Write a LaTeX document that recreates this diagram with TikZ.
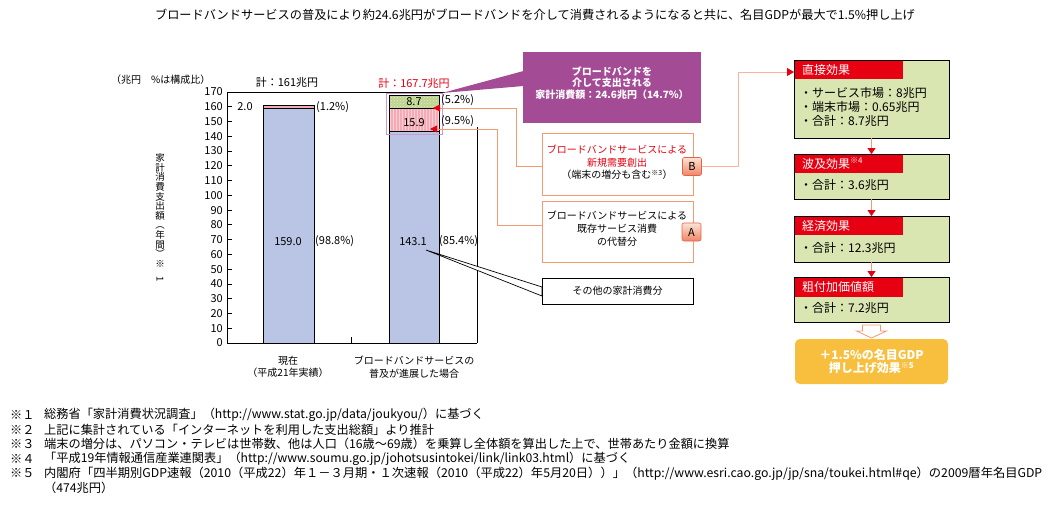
\documentclass[tikz,border=0pt]{standalone}
\usepackage{fontspec}
\setmainfont{Noto Sans CJK JP}
\usetikzlibrary{arrows.meta,calc,patterns}
\definecolor{barblue}{HTML}{BAC4E4}
\definecolor{barpink}{HTML}{F5AAB6}
\definecolor{pinkline}{HTML}{FAD0D6}
\definecolor{bargreen}{HTML}{BDD48F}
\definecolor{hlpurple}{HTML}{C99BCB}
\definecolor{callpurple}{HTML}{A44B96}
\definecolor{oline}{HTML}{F29A72}
\definecolor{olinelight}{HTML}{F6B59C}
\definecolor{jred}{HTML}{E60012}
\definecolor{bodygreen}{HTML}{D9E6B2}
\definecolor{gdporange}{HTML}{F8BF3F}
\definecolor{badgetop}{HTML}{FDE3D4}
\definecolor{badgebot}{HTML}{F08466}
\definecolor{badgeedge}{HTML}{E0644C}
\tikzset{
  tten/.style={font=\fontsize{10}{12}\selectfont, inner sep=0pt},
  televen/.style={font=\fontsize{11}{13}\selectfont, inner sep=0pt},
  ttwelve/.style={font=\fontsize{12}{14}\selectfont, inner sep=0pt},
  tnote/.style={font=\fontsize{12.2}{14}\selectfont, inner sep=0pt, anchor=west},
  barfill/.style={draw=black, line width=0.8pt},
  oconn/.style={draw=oline, line width=0.8pt, -{Triangle[length=7pt,width=7pt,color=jred,fill=jred]}},
  lconn/.style={draw=olinelight, line width=0.9pt, -{Triangle[length=7pt,width=8pt,color=jred,fill=jred]}},
  fconn/.style={draw=oline, line width=0.8pt, -{Triangle[length=6pt,width=8pt,color=jred,fill=jred]}},
  obox/.style={draw=oline, line width=0.9pt, fill=white, minimum width=151pt, outer sep=0pt, inner sep=0pt, anchor=north west},
  badge/.style={draw=badgeedge, line width=0.6pt, rounded corners=2pt, top color=badgetop, bottom color=badgebot, minimum width=19pt, minimum height=18pt, inner sep=0pt, font=\fontsize{11}{11}\selectfont},
  flowbody/.style={fill=bodygreen, minimum width=155pt, outer sep=0pt, inner sep=0pt, anchor=north west},
  flowhdr/.style={fill=jred, text=white, minimum width=109pt, minimum height=19pt, text width=93pt, inner xsep=8pt, inner ysep=0pt, align=left, outer sep=0pt, anchor=north west, font=\fontsize{12}{14}\selectfont},
  flowitem/.style={font=\fontsize{12}{14}\selectfont, inner sep=0pt, anchor=west},
}
\begin{document}
\begin{tikzpicture}[x=1pt,y=-1pt]
\useasboundingbox[fill=white] (0,0) rectangle (1053,504);

% title
\node[font=\fontsize{12.2}{14}\selectfont, inner sep=0pt] (title) at (535,15) {ブロードバンドサービスの普及により約24.6兆円がブロードバンドを介して消費されるようになると共に、名目GDPが最大で1.5\%押し上げ};

% chart header texts
\node[tten, anchor=west] (unit) at (111,80) {（兆円　\%は構成比）};
\node[televen] (tot1) at (287,82) {計：161兆円};
\node[televen, text=jred] (tot2) at (414,83) {計：167.7兆円};

% vertical axis title
\node[font=\fontsize{9.5}{9.6}\selectfont, inner sep=0pt, align=center] (ytitle) at (160,218) {家\\計\\消\\費\\支\\出\\額\\︵\\年\\間\\︶\\※\\\rotatebox{-90}{1}};

\coordinate (hlNE) at (442,93);

% chart
\begin{scope}[shift={(0,343)}, y=1.4765pt]
  % bars
  \fill[barblue] (263,0) rectangle (314,159);
  \fill[barpink] (263,159) rectangle (314,161);
  \draw[barfill] (263,0) rectangle (314,161);
  \draw[line width=0.8pt] (263,159) -- (314,159);
  \fill[barblue] (389,0) rectangle (439,143.1);
  \fill[barpink] (389,143.1) rectangle (439,159);
  \fill[pattern=vertical lines, pattern color=pinkline] (389,143.1) rectangle (439,159);
  \fill[bargreen] (389,159) rectangle (439,167.7);
  \fill[pattern=crosshatch dots, pattern color=white!60!bargreen] (389,159) rectangle (439,167.7);
  \draw[barfill] (389,0) rectangle (439,167.7);
  \draw[line width=0.8pt] (389,143.1) -- (439,143.1);
  \draw[line width=0.8pt] (389,159) -- (439,159);
  % highlight box
  \draw[hlpurple, line width=0.8pt] (386,141.5) rectangle (442,169.3);
  % axes
  \draw[line width=0.9pt] (227,170) -- (227,0) -- (477,0);
  \draw[line width=0.9pt] (227,170) -- (445,170);
  \draw[line width=0.9pt] (477,0) -- (477,146);
  \draw[line width=0.9pt] (351,0) -- (351,4);
  \foreach \v in {0,10,...,170} {
    \draw[line width=0.8pt] (227,\v) -- (232,\v);
    \node[televen, anchor=east] (yl\v) at (223,\v) {\v};
  }
  % value labels
  \node[televen] (v20) at (245,160.3) {2.0};
  \node[televen, anchor=west] (p12) at (316,159.6) {(1.2\%)};
  \node[televen] (v87) at (414,163.4) {8.7};
  \node[televen, anchor=west] (p52) at (441,164.6) {(5.2\%)};
  \node[televen] (v159) at (414,149.2) {15.9};
  \node[televen, anchor=west] (p95) at (441,150.4) {(9.5\%)};
  \node[televen] (v1590) at (288,69) {159.0};
  \node[televen, anchor=west] (p988) at (315,69) {(98.8\%)};
  \node[televen] (v1431) at (413,69) {143.1};
  \node[televen, anchor=west] (p854) at (439,69) {(85.4\%)};
\end{scope}

% category labels
\node[tten, align=center, font=\fontsize{10}{12.5}\selectfont] (cat1) at (288,367) {現在\\（平成21年実績）};
\node[tten, align=center, font=\fontsize{10}{12.5}\selectfont] (cat2) at (414,367) {ブロードバンドサービスの\\普及が進展した場合};

% purple callout
\node[fill=callpurple, minimum width=178pt, minimum height=71pt, inner sep=0pt, outer sep=0pt, anchor=north west] (purp) at (523,52) {};
\fill[callpurple] (hlNE) -- ($(purp.north west)+(0.5,19)$) -- ($(purp.north west)+(0.5,34)$) -- cycle;
\node[font=\bfseries\fontsize{10}{11.3}\selectfont, text=white, align=center, inner sep=0pt] (purpT) at (612,83) {ブロードバンドを\\介して支出される\\家計消費額：24.6兆円（14.7\%）};

% box B
\node[obox, minimum height=62pt] (boxB) at (542,133) {};
\node[font=\fontsize{10}{12.5}\selectfont, align=center, inner sep=0pt] (boxBT) at (617,162.5) {\textcolor{jred}{ブロードバンドサービスによる}\\\textcolor{jred}{新規需要創出}\\（端末の増分も含む\textsuperscript{※3}）};
\node[badge] (badgeB) at (692,166.5) {B};

% box A
\node[obox, minimum height=61pt] (boxA) at (542,201) {};
\node[font=\fontsize{10}{13}\selectfont, align=center, inner sep=0pt] (boxAT) at (617,229) {ブロードバンドサービスによる\\既存サービス消費\\の代替分};
\node[badge] (badgeA) at (691.5,232) {A};

% other box with wedge
\node[draw=black, line width=0.8pt, fill=white, minimum width=151pt, minimum height=26pt, inner sep=0pt, outer sep=0pt, anchor=north west, font=\fontsize{10}{12}\selectfont] (other) at (542,278) {その他の家計消費分};
\coordinate (otip) at (426,250);
\draw[line width=0.7pt, fill=white] (otip) -- ($(other.north west)+(0,9)$) -- ($(other.north west)+(0,18)$) -- cycle;
\draw[line width=0.8pt] (other.north west) rectangle (other.south east);

% connectors into chart
\coordinate (tipB) at (433,108);
\coordinate (tipA) at (430,129);
\draw[oconn] ($(boxB.west)+(0,2)$) -- ++(-26,0) |- (tipB);
\draw[oconn] ($(boxA.north west)+(0,24)$) -- ++(-45,0) |- (tipA);

% flow boxes
\node[flowbody, minimum height=78pt] (f1) at (794,60) {};
\node[flowhdr] (h1) at (f1.north west) {直接効果};
\draw[line width=1pt] (f1.north west) rectangle (f1.south east);
\node[flowitem] (f1a) at ($(f1.north west)+(6,33)$) {・サービス市場：8兆円};
\node[flowitem] (f1b) at ($(f1.north west)+(6,47)$) {・端末市場：0.65兆円};
\node[flowitem] (f1c) at ($(f1.north west)+(6,61)$) {・合計：8.7兆円};

\node[flowbody, minimum height=45pt] (f2) at (794,154) {};
\node[flowhdr] (h2) at (f2.north west) {波及効果\textsuperscript{※4}};
\draw[line width=1pt] (f2.north west) rectangle (f2.south east);
\node[flowitem] (f2a) at ($(f2.north west)+(6,31)$) {・合計：3.6兆円};

\node[flowbody, minimum height=46pt] (f3) at (794,216) {};
\node[flowhdr] (h3) at (f3.north west) {経済効果};
\draw[line width=1pt] (f3.north west) rectangle (f3.south east);
\node[flowitem] (f3a) at ($(f3.north west)+(6,32)$) {・合計：12.3兆円};

\node[flowbody, minimum height=45pt] (f4) at (794,277) {};
\node[flowhdr, minimum height=20pt] (h4) at (f4.north west) {粗付加価値額};
\draw[line width=1pt] (f4.north west) rectangle (f4.south east);
\node[flowitem] (f4a) at ($(f4.north west)+(6,31)$) {・合計：7.2兆円};

\draw[fconn] (f1.south) -- (f2.north);
\draw[fconn] (f2.south) -- (f3.north);
\draw[fconn] (f3.south) -- (f4.north);

% connector from badge B to direct effect
\draw[lconn] (badgeB.east) -- ++(37,0) |- ($(f1.north west)+(0,12)$);

% gdp box
\node[fill=gdporange, rounded corners=5pt, minimum width=153pt, minimum height=45pt, inner sep=0pt, text=white, align=center, font=\bfseries\fontsize{12}{13.5}\selectfont] (gdp) at (871.5,361.5) {＋1.5\%の名目GDP\\押し上げ効果\textsuperscript{※5}};
\draw[draw=oline, fill=white, line width=0.8pt] ($(f4.south)+(-9,3)$) -- ($(f4.south)+(9,3)$) -- ($(f4.south)+(9,9)$) -- ($(f4.south)+(15,9)$) -- ($(f4.south)+(0,16)$) -- ($(f4.south)+(-15,9)$) -- ($(f4.south)+(-9,9)$) -- cycle;

% footnotes
\node[tnote] (n1m) at (10,415) {※１};
\node[tnote] (n1) at (44,415) {総務省「家計消費状況調査」（http://www.stat.go.jp/data/joukyou/）に基づく};
\node[tnote] (n2m) at (10,429.6) {※２};
\node[tnote] (n2) at (44,429.6) {上記に集計されている「インターネットを利用した支出総額」より推計};
\node[tnote] (n3m) at (10,444.2) {※３};
\node[tnote] (n3) at (44,444.2) {端末の増分は、パソコン・テレビは世帯数、他は人口（16歳～69歳）を乗算し全体額を算出した上で、世帯あたり金額に換算};
\node[tnote] (n4m) at (10,458.8) {※４};
\node[tnote] (n4) at (44,458.8) {「平成19年情報通信産業連関表」（http://www.soumu.go.jp/johotsusintokei/link/link03.html）に基づく};
\node[tnote] (n5m) at (10,473.4) {※５};
\node[tnote] (n5) at (44,473.4) {\resizebox{998pt}{\height}{内閣府「四半期別GDP速報（2010（平成22）年１－３月期・１次速報（2010（平成22）年5月20日））」（http://www.esri.cao.go.jp/jp/sna/toukei.html\#qe）の2009暦年名目GDP}};
\node[tnote] (n6) at (44,488) {（474兆円）};
\end{tikzpicture}
\end{document}
